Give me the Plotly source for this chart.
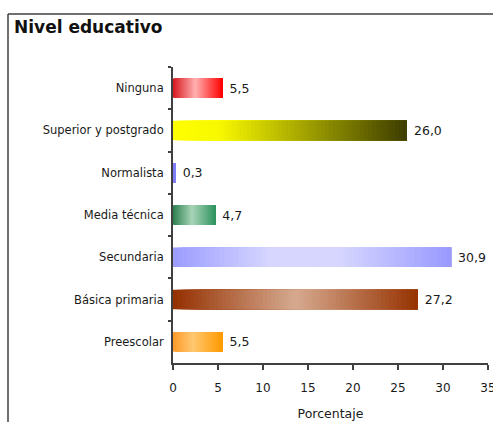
import plotly.graph_objects as go

categories = ["Ninguna", "Superior y postgrado", "Normalista", "Media técnica",
              "Secundaria", "Básica primaria", "Preescolar"]
values = [5.5, 26.0, 0.3, 4.7, 30.9, 27.2, 5.5]
x_ticks = [0, 5, 10, 15, 20, 25, 30, 35]

# gradient stops per bar (position, color)
gradients = [
    [(0.0, "#d81820"), (0.45, "#ffb0b0"), (1.0, "#ff0000")],
    [(0.0, "#ffff00"), (0.2, "#f8f800"), (1.0, "#3c3c00")],
    [(0.0, "#7a7af0"), (1.0, "#8080ff")],
    [(0.0, "#2e8050"), (0.45, "#a8d4b8"), (1.0, "#2f9460")],
    [(0.0, "#9c9cff"), (0.35, "#d6d6ff"), (0.6, "#d6d6ff"), (1.0, "#9999ff")],
    [(0.0, "#943000"), (0.5, "#d6aa90"), (1.0, "#963200")],
    [(0.0, "#ff9a2a"), (0.4, "#ffc870"), (1.0, "#ff9900")],
]


def hex2rgb(h):
    h = h.lstrip("#")
    return tuple(int(h[i:i + 2], 16) for i in (0, 2, 4))


def interp(stops, t):
    for (p0, c0), (p1, c1) in zip(stops, stops[1:]):
        if p0 <= t <= p1:
            f = 0 if p1 == p0 else (t - p0) / (p1 - p0)
            a, b = hex2rgb(c0), hex2rgb(c1)
            return "rgb(%d,%d,%d)" % tuple(round(a[k] + (b[k] - a[k]) * f) for k in range(3))
    return stops[-1][1]


N = 60
ys, xs, bases, cols = [], [], [], []
for cat, v, st in zip(categories, values, gradients):
    for j in range(N):
        start = v * j / N
        ys.append(cat)
        bases.append(start)
        xs.append(v - start)
        cols.append(interp(st, (j + 0.5) / N))

fig = go.Figure()
fig.add_trace(go.Bar(
    y=ys, x=xs, base=bases, orientation="h",
    marker=dict(color=cols, line=dict(width=0)),
    width=0.46, hoverinfo="skip", showlegend=False,
))
fig.add_trace(go.Bar(
    y=categories, x=values, orientation="h",
    marker=dict(color="rgba(0,0,0,0)", line=dict(width=0)),
    width=0.46, text=values, texttemplate="\u00a0%{x:.1f}", textposition="outside",
    textfont=dict(family="DejaVu Sans", size=12.5, color="#1a1a1a"),
    cliponaxis=False, showlegend=False,
))

W, H = 493, 422
L, T, R, B = 173, 67, 5, 59
PW, PH = W - L - R, H - T - B

# chart frame (only top and left edges fall inside the window)
fx0, fy_top = (8 - L) / PW, (T + PH - 14) / PH
fx1, fy_bot = (W + 20 - L) / PW, (T + PH - H - 20) / PH
frame = dict(type="line", xref="paper", yref="paper",
             line=dict(color="#404040", width=1.5), layer="below")

fig.update_layout(
    width=W, height=H,
    margin=dict(l=L, r=R, t=T, b=B, autoexpand=False),
    paper_bgcolor="white", plot_bgcolor="white",
    barmode="overlay", separators=",.",
    font=dict(family="DejaVu Sans", color="#1a1a1a"),
    xaxis=dict(range=[0, 35], tickvals=x_ticks, ticks="outside", ticklen=5,
               tickcolor="#404040", tickwidth=1.5, showline=True, linecolor="#404040",
               linewidth=2, showgrid=False, zeroline=False, ticklabelstandoff=8,
               ticklabeloverflow="allow", automargin=False,
               tickfont=dict(size=12), title=dict(text="Porcentaje", font=dict(size=12.5), standoff=15)),
    yaxis=dict(categoryorder="array", categoryarray=categories, autorange="reversed",
               ticks="outside", tickson="boundaries", ticklen=3, tickcolor="#404040",
               tickwidth=1.5, showline=True, linecolor="#404040", linewidth=2, automargin=False,
               showgrid=False, zeroline=False, tickfont=dict(size=11.5), ticklabelstandoff=5),
    annotations=[dict(text="<b>Nivel educativo</b>", xref="paper", yref="paper",
                      x=(12 - L) / PW, y=(T + PH - 27) / PH, xanchor="left", yanchor="middle",
                      showarrow=False, font=dict(family="DejaVu Sans", size=17, color="#111111"))],
    shapes=[dict(frame, x0=fx0, x1=fx1, y0=fy_top, y1=fy_top),
            dict(frame, x0=fx0, x1=fx0, y0=fy_bot, y1=fy_top)],
)

fig.write_html(
    "out.html",
    config={"displayModeBar": False},
    post_script="document.body.style.margin='0';document.body.style.overflow='hidden';"
                "document.documentElement.style.overflow='hidden';",
)
